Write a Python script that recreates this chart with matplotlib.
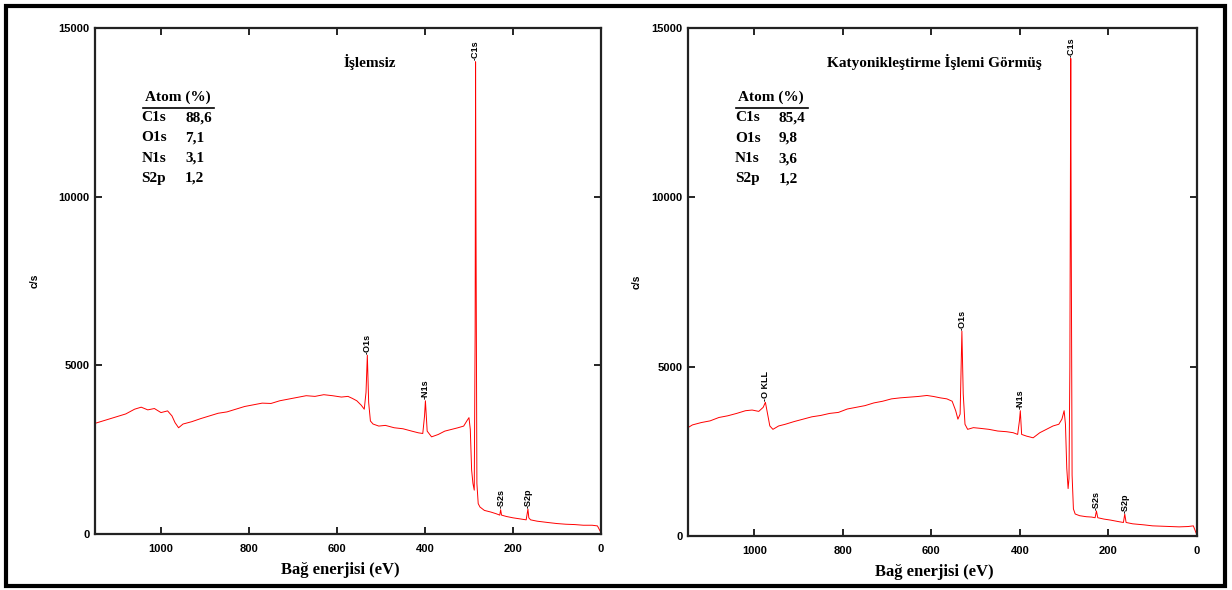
import matplotlib
matplotlib.use("Agg")
import matplotlib.pyplot as plt
from matplotlib.patches import Rectangle

# left panel: untreated sample (binding energy eV, counts c/s)
left_ev = [1150, 1140, 1120, 1100, 1080, 1060, 1045, 1030, 1015, 1000, 985, 975, 968, 960,
           950, 930, 910, 890, 870, 850, 830, 810, 790, 770, 750, 730, 710, 690, 670, 650,
           630, 610, 590, 575, 565, 555, 545, 538, 534, 531, 528, 524, 518, 505, 490, 470,
           450, 430, 415, 405, 401, 399, 395, 385, 370, 355, 340, 325, 312, 305, 300, 297,
           294, 291, 288, 286, 285, 284, 282, 279, 275, 265, 250, 238, 230, 228, 226, 215,
           200, 185, 170, 166, 164, 160, 145, 120, 100, 80, 60, 40, 20, 8, 0]
left_cps = [3280, 3320, 3400, 3480, 3560, 3700, 3760, 3680, 3720, 3600, 3650, 3500, 3300, 3150,
            3260, 3330, 3420, 3500, 3580, 3620, 3700, 3780, 3830, 3880, 3870, 3950, 4000, 4050, 4100, 4080,
            4130, 4100, 4060, 4080, 4020, 3950, 3820, 3700, 4200, 5300, 3900, 3350, 3260, 3200, 3220, 3150,
            3120, 3050, 3000, 2980, 3500, 3950, 3050, 2880, 2950, 3050, 3100, 3150, 3200, 3350, 3450, 3100,
            1900, 1500, 1300, 6000, 14000, 9000, 1500, 900, 800, 700, 650, 600, 560, 720, 560, 520,
            480, 450, 420, 740, 480, 420, 380, 340, 310, 290, 280, 260, 260, 240, 40]

# right panel: cationised sample
right_ev = [1150, 1140, 1120, 1100, 1080, 1060, 1040, 1020, 1005, 990, 980, 975, 970, 965,
            958, 945, 930, 910, 890, 870, 850, 830, 810, 790, 770, 750, 730, 710, 690, 670,
            650, 630, 610, 595, 580, 565, 553, 545, 540, 535, 531, 528, 524, 518, 505, 490,
            470, 450, 430, 415, 405, 401, 399, 396, 385, 370, 355, 340, 325, 312, 305, 300,
            297, 294, 291, 289, 287, 285, 284, 282, 279, 275, 265, 250, 238, 230, 227, 224,
            210, 195, 175, 166, 163, 160, 145, 120, 100, 80, 60, 40, 20, 8, 0]
right_cps = [3200, 3280, 3350, 3400, 3500, 3550, 3620, 3700, 3720, 3680, 3800, 3950, 3600, 3250,
             3150, 3250, 3300, 3380, 3450, 3520, 3560, 3620, 3650, 3750, 3800, 3850, 3930, 3980, 4050, 4080,
             4100, 4120, 4150, 4120, 4080, 4050, 3980, 3700, 3450, 3600, 6050, 4200, 3300, 3150, 3200, 3180,
             3150, 3100, 3080, 3050, 3000, 3400, 3700, 3000, 2950, 2900, 3050, 3150, 3250, 3300, 3450, 3700,
             3300, 2000, 1400, 1700, 5000, 14100, 9000, 1800, 800, 650, 600, 570, 560, 540, 740, 540,
             500, 470, 420, 400, 650, 400, 360, 330, 300, 290, 280, 270, 280, 300, 30]

# peak labels
left_peaks = ["C1s", "O1s", "N1s", "S2s", "S2p"]
left_peak_ev = [285, 531, 399, 228, 166]
left_peak_cps = [14000, 5300, 3950, 720, 740]
right_peaks = ["C1s", "O1s", "N1s", "S2s", "S2p", "O KLL"]
right_peak_ev = [285, 531, 399, 227, 163, 975]
right_peak_cps = [14100, 6050, 3700, 740, 650, 3950]

# atomic composition tables
elements = ["C1s", "O1s", "N1s", "S2p"]
left_atom = ["88,6", "7,1", "3,1", "1,2"]
right_atom = ["85,4", "9,8", "3,6", "1,2"]

titles = ["İşlemsiz", "Katyonikleştirme İşlemi Görmüş"]

fig = plt.figure(figsize=(12.32, 5.9), dpi=100)
fig.patches.append(Rectangle((0.005, 0.007), 0.989, 0.983, transform=fig.transFigure,
                             fill=False, edgecolor="black", linewidth=3))

ax1 = fig.add_axes([0.0771, 0.0949, 0.4107, 0.8576])
ax2 = fig.add_axes([0.5584, 0.0915, 0.4131, 0.8610])

serif = "Liberation Serif"
sans = "Liberation Sans"

panels = [
    (ax1, left_ev, left_cps, left_peaks, left_peak_ev, left_peak_cps, left_atom, titles[0], 0.543, -0.11),
    (ax2, right_ev, right_cps, right_peaks, right_peak_ev, right_peak_cps, right_atom, titles[1], 0.485, -0.092),
]

for ax, ev, cps, pk, pk_ev, pk_cps, atom, title, tx, ylx in panels:
    ax.plot(ev, cps, color="red", linewidth=0.7)
    ax.set_xlim(1150, 0)
    ax.set_ylim(0, 15000)
    ax.set_xticks([1000, 800, 600, 400, 200, 0])
    ax.set_yticks([0, 5000, 10000, 15000])
    ax.tick_params(axis="x", direction="in", top=True, length=5, width=1.2, pad=7)
    ax.tick_params(axis="y", direction="in", right=True, length=5, width=1.2, pad=4)
    for lab in ax.get_xticklabels() + ax.get_yticklabels():
        lab.set_fontfamily(sans)
        lab.set_fontweight("bold")
        lab.set_fontsize(8)
    for s in ax.spines.values():
        s.set_linewidth(1.6)
        s.set_color("#222222")

    ax.set_xlabel("Bağ enerjisi (eV)", fontfamily=serif, fontweight="bold", fontsize=12)
    ax.xaxis.set_label_coords(0.485, -0.055)
    ax.set_ylabel("c/s", fontfamily=sans, fontweight="bold", fontsize=7.5)
    ax.yaxis.set_label_coords(ylx, 0.5)

    ax.text(tx, 0.933, title, transform=ax.transAxes, ha="center", va="center",
            fontfamily=serif, fontweight="bold", fontsize=11)

    for name, e, c in zip(pk, pk_ev, pk_cps):
        ax.annotate("-" + name, (e, c), xytext=(0, 1), textcoords="offset points",
                    rotation=90, ha="center", va="bottom", fontsize=6.5,
                    fontfamily=sans, fontweight="bold", color="black")

    # composition table
    ax.text(0.099, 0.864, "Atom (%)", transform=ax.transAxes, ha="left", va="center",
            fontfamily=serif, fontweight="bold", fontsize=11)
    ax.plot([0.095, 0.235], [0.842, 0.842], transform=ax.transAxes, color="black", linewidth=1.2)
    for i, (el, val) in enumerate(zip(elements, atom)):
        y = 0.823 - i * 0.040
        ax.text(0.092, y, el, transform=ax.transAxes, ha="left", va="center",
                fontfamily=serif, fontweight="bold", fontsize=11)
        ax.text(0.178, y, val, transform=ax.transAxes, ha="left", va="center",
                fontfamily=serif, fontweight="bold", fontsize=11)

fig.savefig("out.png", dpi=100)
